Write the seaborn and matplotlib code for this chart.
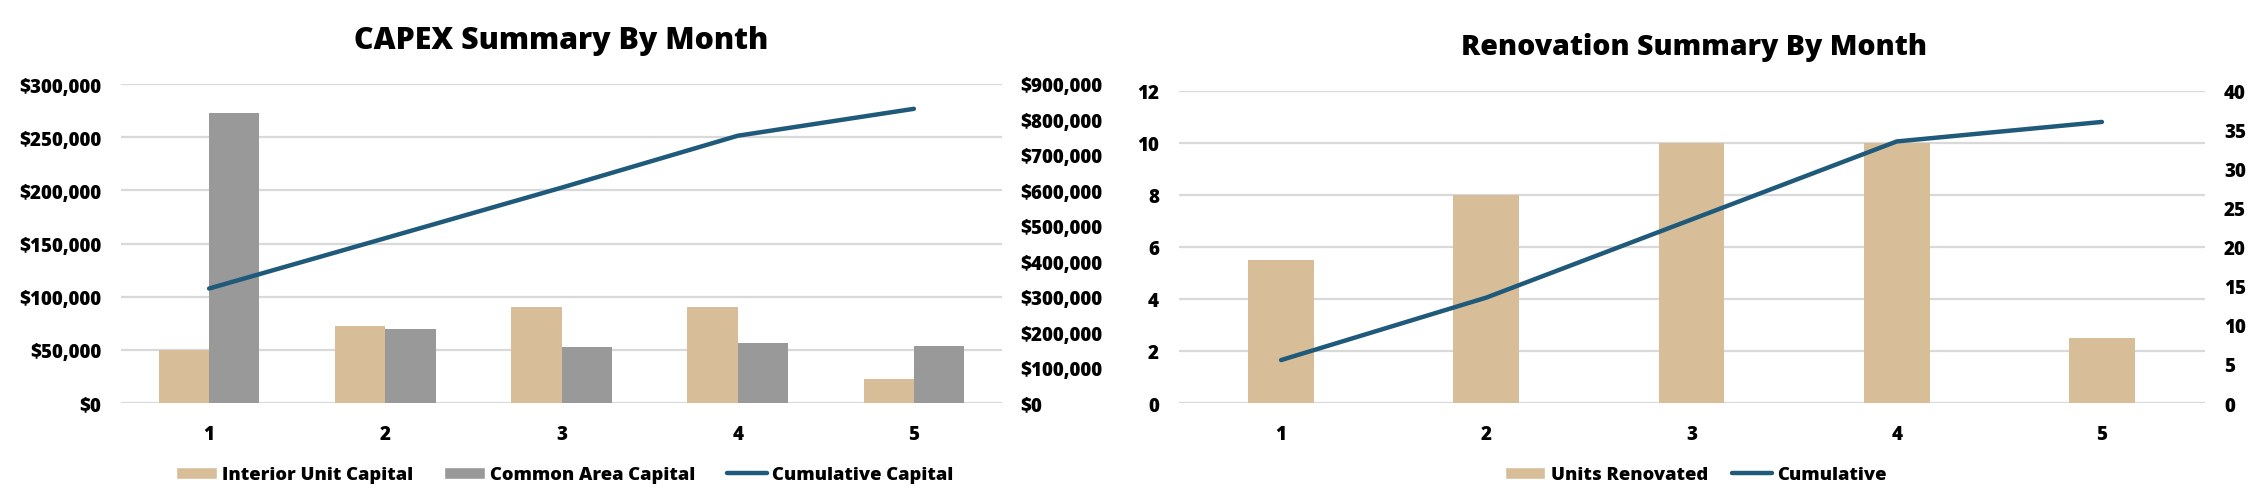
import numpy as np
import pandas as pd
import matplotlib
matplotlib.use("Agg")
import matplotlib.pyplot as plt
import seaborn as sns
from matplotlib.patches import Patch
from matplotlib.lines import Line2D
from matplotlib.ticker import FuncFormatter, MultipleLocator

# ---------------- data ----------------
months = ["1", "2", "3", "4", "5"]
capex_series = ["Interior Unit Capital", "Common Area Capital"]
interior_capital = [50000, 72000, 90000, 90000, 22500]
common_capital = [273000, 69500, 52500, 56500, 53500]
cumulative_capital = [323000, 465000, 607500, 754000, 830000]

units_renovated = [5.5, 8, 10, 10, 2.5]
cumulative_units = [5.5, 13.5, 23.5, 33.5, 36]

# ---------------- style ----------------
TAN = "#D8BE98"
GRAY = "#999999"
BLUE = "#1F5A7A"
GRID = "#D9D9D9"

sns.set_theme(style="white")
plt.rcParams["font.family"] = ["Open Sans", "DejaVu Sans"]
plt.rcParams["text.color"] = "black"

W, H = 2258, 489
fig = plt.figure(figsize=(W / 100, H / 100), dpi=100)
fig.patch.set_facecolor("white")

TICK_FS = 13.5
LEG_FS = 13.2
WEIGHT = 800


def style_axes(ax, left_pad, right=False):
    for s in ax.spines.values():
        s.set_visible(False)
    ax.tick_params(axis="both", length=0, labelsize=TICK_FS, colors="black")
    ax.tick_params(axis="x", pad=15)
    ax.tick_params(axis="y", pad=left_pad)
    for lab in ax.get_xticklabels() + ax.get_yticklabels():
        lab.set_fontweight(WEIGHT)
    ax.set_xlabel("")
    ax.set_ylabel("")


# ================= CAPEX chart =================
ax1 = fig.add_axes([121 / W, 1 - 404 / H, 881 / W, 319 / H])
df_capex = pd.DataFrame({
    "Month": months * 2,
    "Value": interior_capital + common_capital,
    "Series": [capex_series[0]] * len(months) + [capex_series[1]] * len(months),
})
sns.barplot(data=df_capex, x="Month", y="Value", hue="Series",
            palette=[TAN, GRAY], width=0.57, gap=0, saturation=1,
            linewidth=0, legend=False, ax=ax1)
ax1.set_ylim(0, 300000)
ax1.yaxis.set_major_locator(MultipleLocator(50000))
ax1.yaxis.set_major_formatter(FuncFormatter(lambda v, p: f"${v:,.0f}"))
ax1.set_axisbelow(True)
ax1.yaxis.grid(True, color=GRID, linewidth=1.6)
ax1.xaxis.grid(False)

ax1t = ax1.twinx()
df_cum = pd.DataFrame({"Month": months, "Cumulative": cumulative_capital})
sns.lineplot(data=df_cum, x="Month", y="Cumulative", color=BLUE,
             linewidth=3.2, ax=ax1t, solid_capstyle="round")
ax1t.set_ylim(0, 900000)
ax1t.yaxis.set_major_locator(MultipleLocator(100000))
ax1t.yaxis.set_major_formatter(FuncFormatter(lambda v, p: f"${v:,.0f}"))
ax1t.grid(False)
ax1.set_xlim(-0.5, 4.5)
ax1t.set_xlim(-0.5, 4.5)
style_axes(ax1, 14)
style_axes(ax1t, 13)

fig.text(561 / W, 1 - 41 / H, "CAPEX Summary By Month", ha="center",
         va="center", fontsize=21.8, fontweight=WEIGHT)

handles1 = [Patch(facecolor=TAN, label=capex_series[0]),
            Patch(facecolor=GRAY, label=capex_series[1]),
            Line2D([0], [0], color=BLUE, lw=3.2, label="Cumulative Capital")]
fig.legend(handles=handles1, loc="center", bbox_to_anchor=(565 / W, 1 - 476 / H),
           bbox_transform=fig.transFigure, ncol=3, frameon=False,
           handlelength=2.2, handleheight=0.65, handletextpad=0.3,
           columnspacing=1.7, prop=dict(weight=WEIGHT, size=LEG_FS))

# ================= Renovation chart =================
ax2 = fig.add_axes([1178.5 / W, 1 - 404 / H, 1026 / W, 312.3 / H])
df_units = pd.DataFrame({"Month": months, "Units Renovated": units_renovated})
sns.barplot(data=df_units, x="Month", y="Units Renovated", color=TAN,
            width=0.32, saturation=1, linewidth=0, ax=ax2)
ax2.set_ylim(0, 12)
ax2.yaxis.set_major_locator(MultipleLocator(2))
ax2.set_axisbelow(True)
ax2.yaxis.grid(True, color=GRID, linewidth=1.6)
ax2.xaxis.grid(False)

ax2t = ax2.twinx()
df_cu = pd.DataFrame({"Month": months, "Cumulative": cumulative_units})
sns.lineplot(data=df_cu, x="Month", y="Cumulative", color=BLUE,
             linewidth=3.2, ax=ax2t, solid_capstyle="round")
ax2t.set_ylim(0, 40)
ax2t.yaxis.set_major_locator(MultipleLocator(5))
ax2t.grid(False)
ax2.set_xlim(-0.5, 4.5)
ax2t.set_xlim(-0.5, 4.5)
style_axes(ax2, 14)
style_axes(ax2t, 14)

fig.text(1694 / W, 1 - 48 / H, "Renovation Summary By Month", ha="center",
         va="center", fontsize=20.5, fontweight=WEIGHT)

handles2 = [Patch(facecolor=TAN, label="Units Renovated"),
            Line2D([0], [0], color=BLUE, lw=3.2, label="Cumulative")]
fig.legend(handles=handles2, loc="center", bbox_to_anchor=(1696 / W, 1 - 476 / H),
           bbox_transform=fig.transFigure, ncol=2, frameon=False,
           handlelength=2.2, handleheight=0.65, handletextpad=0.3,
           columnspacing=1.3, prop=dict(weight=WEIGHT, size=LEG_FS))

fig.savefig("out.png", dpi=100, facecolor="white")
